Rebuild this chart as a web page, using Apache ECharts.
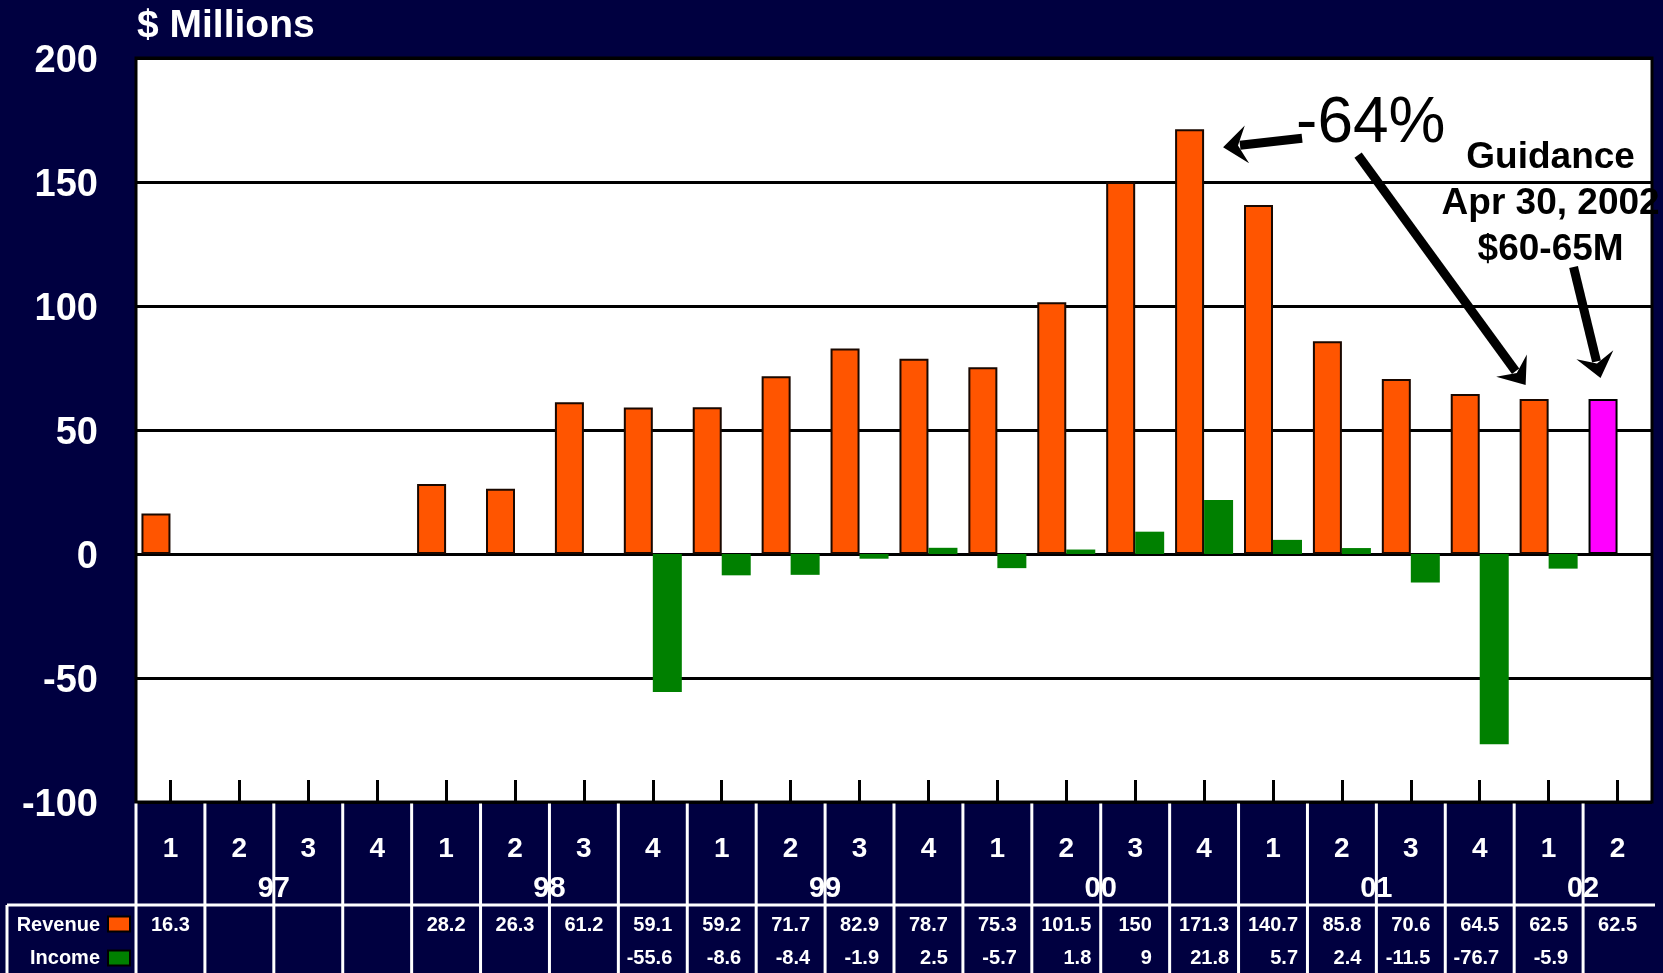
<!DOCTYPE html>
<html>
<head>
<meta charset="utf-8">
<script src="https://cdn.jsdelivr.net/npm/echarts@6/dist/echarts.min.js"></script>
<style>
html,body{margin:0;padding:0;background:#000040;}
#c{width:1663px;height:973px;}
</style>
</head>
<body>
<div id="c"></div>
<script>
// ---------- data ----------
const years = ['97', '98', '99', '00', '01', '02'];
const quartersPerYear = [4, 4, 4, 4, 4, 2];
const quarterLabels = ['1', '2', '3', '4'];
const revenue = [16.3, null, null, null, 28.2, 26.3, 61.2, 59.1, 59.2, 71.7, 82.9, 78.7, 75.3, 101.5, 150, 171.3, 140.7, 85.8, 70.6, 64.5, 62.5, 62.5];
const income  = [null, null, null, null, null, null, null, -55.6, -8.6, -8.4, -1.9, 2.5, -5.7, 1.8, 9, 21.8, 5.7, 2.4, -11.5, -76.7, -5.9, null];
const yMin = -100, yMax = 200, yStep = 50;
const guidanceIndex = 21;     // guidance quarter (Q2 02)
const peakIndex = 15;         // Q4 00
const latestIndex = 20;       // Q1 02
const seriesNames = ['Revenue', 'Income'];
const axisTitle = '$ Millions';
const dropText = '-64%';
const guidanceLines = ['Guidance', 'Apr 30, 2002', '$60-65M'];

// ---------- build categories ----------
const cats = [], catQuarter = [], yearSpans = [];
years.forEach((y, yi) => {
  yearSpans.push({ label: y, start: cats.length, count: quartersPerYear[yi] });
  for (let q = 0; q < quartersPerYear[yi]; q++) {
    cats.push(y + 'Q' + quarterLabels[q]);
    catQuarter.push(quarterLabels[q]);
  }
});

const FF = "'Liberation Sans', Arial, Helvetica, sans-serif";
const NAVY = '#000040';
const ORANGE = '#FF5500';
const GREEN = '#008000';
const PINK = '#FF00FF';

const chart = echarts.init(document.getElementById('c'), null, { renderer: 'canvas' });

chart.setOption({
  backgroundColor: NAVY,
  animation: false,
  grid: {
    left: 136, right: 11, top: 58, bottom: 171,
    show: true, backgroundColor: '#fff', borderColor: '#000', borderWidth: 3
  },
  xAxis: {
    type: 'category', data: cats, boundaryGap: true,
    axisLine: { show: false, onZero: false },
    axisTick: { show: true, inside: true, length: 22, alignWithLabel: true, interval: 0,
      lineStyle: { color: '#000', width: 3 } },
    axisLabel: { show: false },
    splitLine: { show: false }
  },
  yAxis: {
    type: 'value', min: yMin, max: yMax, interval: yStep,
    axisLine: { show: false }, axisTick: { show: false },
    splitLine: { show: true, lineStyle: { color: '#000', width: 3 } },
    axisLabel: { show: false }
  },
  series: [
    {
      name: seriesNames[0], type: 'bar', barWidth: 29, barGap: '0%',
      itemStyle: { color: ORANGE, borderColor: '#1a0800', borderWidth: 2 },
      data: revenue.map((v, i) => i === guidanceIndex
        ? { value: v, itemStyle: { color: PINK, borderColor: '#000', borderWidth: 2 } } : v)
    },
    {
      name: seriesNames[1], type: 'bar', barWidth: 29, barGap: '0%',
      itemStyle: { color: GREEN },
      data: income
    }
  ]
});

// ---------- table & annotations (positions from the chart's own scales) ----------
const catX = i => chart.convertToPixel({ xAxisIndex: 0 }, i);
const yPix = v => chart.convertToPixel({ yAxisIndex: 0 }, v);
const cellW = catX(1) - catX(0);
const bx = k => catX(0) - cellW / 2 + k * cellW;   // cell boundary k
const n = cats.length;
const gBottom = yPix(yMin);
const gTop = yPix(yMax);
const H = 973;

const measure = (() => {
  const ctx = document.createElement('canvas').getContext('2d');
  return (t, size) => { ctx.font = 'bold ' + size + 'px ' + FF; return ctx.measureText(t).width; };
})();

const g = [];
const txt = (x, y, text, size, opts = {}) => g.push({
  type: 'text', x, y, silent: true, z: 100,
  style: Object.assign({ text, fill: '#fff', fontSize: size, fontWeight: 'bold', fontFamily: FF,
    align: 'center', verticalAlign: 'middle' }, opts)
});
const line = (x1, y1, x2, y2, color, w) => g.push({
  type: 'line', silent: true, z: 90, shape: { x1, y1, x2, y2 }, style: { stroke: color, lineWidth: w }
});

// y-axis tick labels, placed by the value axis scale
for (let v = yMin; v <= yMax; v += yStep) txt(98, yPix(v) + 4, String(v), 38, { align: 'right' });

// header / data row geometry
const headerBottom = gBottom + 103;
const qY = gBottom + 47;
const yearY = gBottom + 87;
const revY = gBottom + 123;
const incY = gBottom + 156;

// white cell separators
for (let k = 0; k < n; k++) line(bx(k), gBottom + 1.5, bx(k), H, '#fff', 3);
line(7, headerBottom, bx(n) + 3, headerBottom, '#fff', 3);
line(7, headerBottom, 7, H, '#fff', 3);

// quarter numbers
catQuarter.forEach((q, i) => txt(catX(i), qY, q, 28));
// year labels
yearSpans.forEach(s => txt(bx(s.start + s.count / 2), yearY, s.label, 29));

// data rows
revenue.forEach((v, i) => { if (v !== null) txt(catX(i), revY, String(v), 20); });
income.forEach((v, i) => {
  if (v === null) return;
  const ref = revenue[i] !== null ? String(revenue[i]) : String(v);
  const right = catX(i) + measure(ref, 20) / 2;
  txt(right, incY, String(v), 20, { align: 'right' });
});

// row labels + swatches
txt(100, revY, seriesNames[0], 20, { align: 'right' });
txt(100, incY, seriesNames[1], 20, { align: 'right' });
[[revY - 1, ORANGE], [incY, GREEN]].forEach(([y, c]) => g.push({
  type: 'rect', silent: true, z: 100,
  shape: { x: 108, y: y - 7.5, width: 22, height: 15 },
  style: { fill: c, stroke: '#000', lineWidth: 2 }
}));

// axis title
txt(137, 26, axisTitle, 39, { align: 'left' });

// arrows
function arrow(sx, sy, tx, ty) {
  const dx = tx - sx, dy = ty - sy, len = Math.hypot(dx, dy);
  const ux = dx / len, uy = dy / len, nx = -uy, ny = ux;
  const L = 24, W = 19, N = 9;
  const bxp = tx - ux * L, byp = ty - uy * L;
  const notchX = tx - ux * (L - N), notchY = ty - uy * (L - N);
  g.push({ type: 'line', silent: true, z: 110,
    shape: { x1: sx, y1: sy, x2: notchX - ux * 2, y2: notchY - uy * 2 },
    style: { stroke: '#000', lineWidth: 9 } });
  g.push({ type: 'polygon', silent: true, z: 111,
    shape: { points: [[tx, ty], [bxp + nx * W, byp + ny * W], [notchX, notchY], [bxp - nx * W, byp - ny * W]] },
    style: { fill: '#000' } });
}
const peakX = catX(peakIndex), peakY = yPix(revenue[peakIndex]);
const latX = catX(latestIndex), latY = yPix(revenue[latestIndex]);
const gdX = catX(guidanceIndex), gdY = yPix(revenue[guidanceIndex]);

// "-64%" label and arrow to peak
txt(peakX + 92, peakY - 5, dropText, 64, { align: 'left', fill: '#000', fontWeight: 'normal' });
arrow(peakX + 98, peakY + 9, peakX + 19, peakY + 18);
// arrow from -64% to latest quarter
arrow(peakX + 154, peakY + 26, latX - 23, latY - 14);
// guidance text and arrow
guidanceLines.forEach((t, i) => txt(latX + 2, gTop + 100 + i * 46, t, 37, { fill: '#000' }));
arrow(gdX - 44, gTop + 209, gdX - 17, gdY - 21);

chart.setOption({ graphic: g });
</script>
</body>
</html>
